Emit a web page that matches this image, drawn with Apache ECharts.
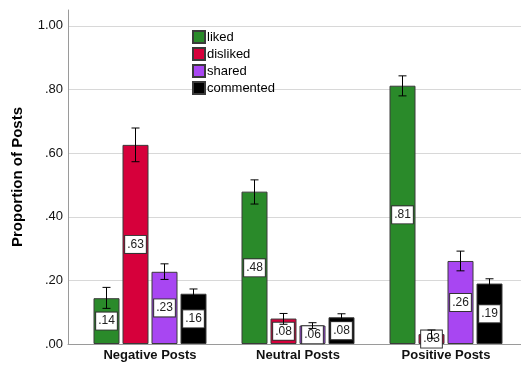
<!DOCTYPE html>
<html>
<head>
<meta charset="utf-8">
<script src="https://cdn.jsdelivr.net/npm/echarts@6/dist/echarts.min.js"></script>
<style>
  html, body { margin: 0; padding: 0; background: #fff; }
  #chart { width: 521px; height: 365px; }
</style>
</head>
<body>
<div id="chart"></div>
<script>
// Post type groups on the x axis
const categories = ['Negative Posts', 'Neutral Posts', 'Positive Posts'];

// Mean proportions per reaction
const liked     = [0.144, 0.479, 0.812];
const disliked  = [0.626, 0.080, 0.031];
const shared    = [0.227, 0.058, 0.261];
const commented = [0.158, 0.084, 0.190];

// 95% confidence interval bounds
const likedLow      = [0.112, 0.440, 0.780];
const likedHigh     = [0.178, 0.516, 0.843];
const dislikedLow   = [0.573, 0.062, 0.018];
const dislikedHigh  = [0.679, 0.096, 0.044];
const sharedLow     = [0.203, 0.049, 0.230];
const sharedHigh    = [0.252, 0.067, 0.292];
const commentedLow  = [0.145, 0.075, 0.177];
const commentedHigh = [0.173, 0.095, 0.205];

// Y axis ticks
const yTicks = [0, 0.2, 0.4, 0.6, 0.8, 1.0];

const seriesDefs = [
  { name: 'liked',     values: liked,     low: likedLow,     high: likedHigh,     color: '#2a8a2a' },
  { name: 'disliked',  values: disliked,  low: dislikedLow,  high: dislikedHigh,  color: '#d6003b' },
  { name: 'shared',    values: shared,    low: sharedLow,    high: sharedHigh,    color: '#a846f2' },
  { name: 'commented', values: commented, low: commentedLow, high: commentedHigh, color: '#000000' }
];

const FONT = "'Liberation Sans', Arial, sans-serif";
const BAR_W = 26;
const BAR_GAP = 3;
const STEP = BAR_W + BAR_GAP;
const Y_MAX = 1.05;

function fmt(v) {
  return v.toFixed(2).replace(/^0/, '');
}

const series = [];
seriesDefs.forEach(function (d, k) {
  series.push({
    type: 'bar',
    name: d.name,
    xAxisIndex: 1,
    yAxisIndex: 1,
    data: d.values,
    barWidth: BAR_W,
    barGap: (BAR_GAP / BAR_W * 100) + '%',
    itemStyle: { color: d.color, borderColor: '#3a3a3a', borderWidth: 1 },
    label: {
      show: true,
      position: 'inside',
      formatter: function (p) { return fmt(p.value); },
      color: '#222',
      fontFamily: FONT,
      fontSize: 12,
      lineHeight: 14,
      backgroundColor: '#fff',
      borderColor: '#333',
      borderWidth: 1,
      padding: [2, 2, 1, 2]
    },
    z: 2
  });
  series.push({
    type: 'custom',
    name: d.name + ' CI',
    xAxisIndex: 1,
    yAxisIndex: 1,
    data: categories.map(function (c, i) { return [i, d.low[i], d.high[i]]; }),
    renderItem: function (params, api) {
      const hi = api.coord([api.value(0), api.value(2)]);
      const lo = api.coord([api.value(0), api.value(1)]);
      const x = hi[0] + (k - 1.5) * STEP;
      const cap = 4;
      const style = { stroke: '#000', lineWidth: 1 };
      return {
        type: 'group',
        children: [
          { type: 'line', shape: { x1: x, y1: hi[1], x2: x, y2: lo[1] }, style: style },
          { type: 'line', shape: { x1: x - cap, y1: hi[1], x2: x + cap, y2: hi[1] }, style: style },
          { type: 'line', shape: { x1: x - cap, y1: lo[1], x2: x + cap, y2: lo[1] }, style: style }
        ]
      };
    },
    silent: true,
    z: 10
  });
});

const chart = echarts.init(document.getElementById('chart'), null, { renderer: 'canvas' });
chart.setOption({
  animation: false,
  backgroundColor: '#fff',
  textStyle: { fontFamily: FONT },
  legend: {
    data: seriesDefs.map(function (d) { return d.name; }),
    orient: 'vertical',
    left: 192,
    top: 30,
    padding: 0,
    itemWidth: 12,
    itemHeight: 12,
    itemGap: 3,
    icon: 'rect',
    textStyle: { fontFamily: FONT, fontSize: 13, color: '#000', padding: [0, 0, 0, -3] }
  },
  grid: [
    { left: 68, right: 0, top: 10, bottom: 21 },
    { left: 76, right: 1, top: 10, bottom: 21 }
  ],
  xAxis: [
    {
      type: 'category',
      gridIndex: 0,
      data: categories,
      axisLine: { show: true, lineStyle: { color: '#9a9a9a' } },
      axisTick: { show: false },
      axisLabel: { show: false }
    },
    {
      type: 'category',
      gridIndex: 1,
      data: categories,
      axisLine: { show: false },
      axisTick: { show: false },
      axisLabel: {
        margin: 5,
        color: '#111',
        fontFamily: FONT,
        fontSize: 13,
        fontWeight: 'bold'
      }
    }
  ],
  yAxis: [
    {
      type: 'value',
      gridIndex: 0,
      min: 0,
      max: Y_MAX,
      interval: 0.2,
      name: 'Proportion of Posts',
      nameLocation: 'middle',
      nameGap: 43,
      nameTextStyle: { fontFamily: FONT, fontSize: 15, fontWeight: 'bold', color: '#000' },
      axisLine: { show: true, lineStyle: { color: '#9a9a9a' } },
      axisTick: { show: false },
      axisLabel: {
        margin: 5,
        color: '#111',
        fontFamily: FONT,
        fontSize: 13,
        showMaxLabel: false,
        formatter: function (v) {
          return yTicks.some(function (t) { return Math.abs(t - v) < 1e-6; }) ? fmt(v) : '';
        }
      },
      splitLine: { show: true, showMaxLine: false, lineStyle: { color: '#d8d8d8', width: 1 } }
    },
    {
      type: 'value',
      gridIndex: 1,
      min: 0,
      max: Y_MAX,
      show: false,
      splitLine: { show: false }
    }
  ],
  series: series
});
</script>
</body>
</html>
